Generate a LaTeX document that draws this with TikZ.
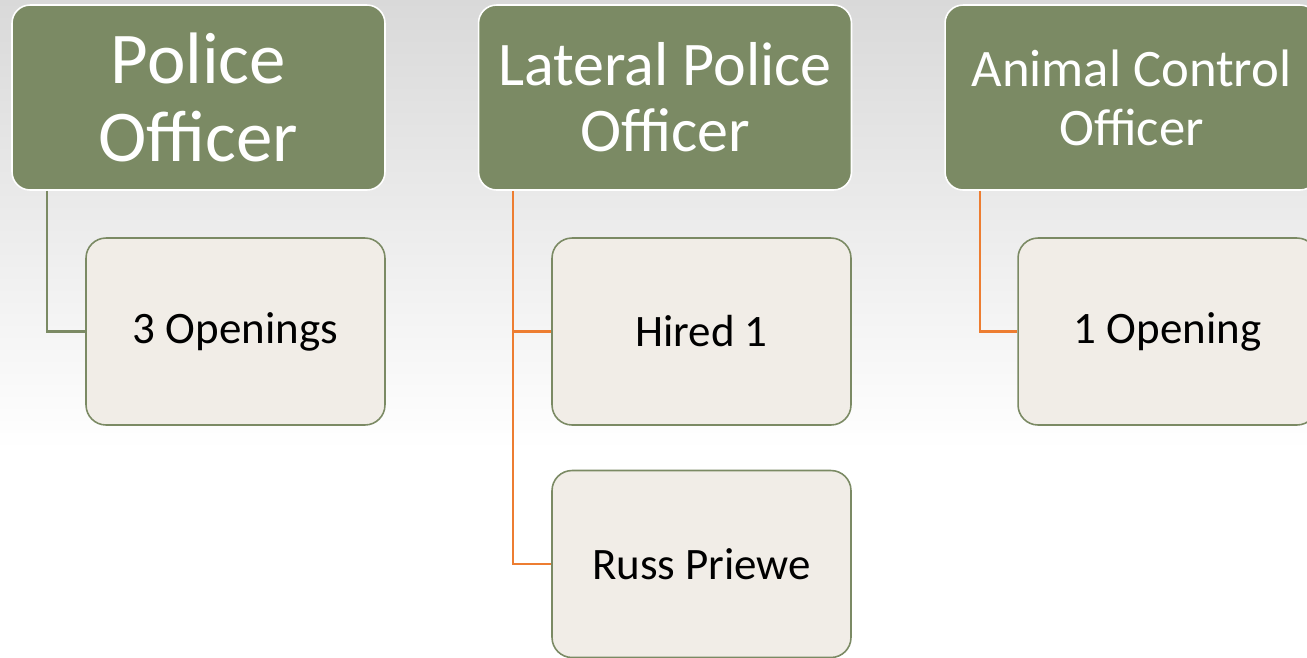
\documentclass[tikz,border=0pt]{standalone}
\usepackage{fontspec}
\setmainfont{Carlito}
\usepackage{tikz}
\usetikzlibrary{positioning,calc}

\definecolor{olivehead}{HTML}{7B8A64}
\definecolor{itemfill}{HTML}{F1EDE7}
\definecolor{linkorange}{HTML}{ED7D31}
\definecolor{bgtop}{HTML}{D9D9D9}

\begin{document}
\begin{tikzpicture}[x=0.02cm,y=-0.02cm,
  head/.style={draw=white,line width=0.9pt,fill=olivehead,rounded corners=0.36cm,
    minimum width=7.46cm,minimum height=3.7cm,text=white,align=center,inner sep=0pt},
  item/.style={draw=olivehead,line width=0.9pt,fill=itemfill,rounded corners=0.4cm,
    minimum width=5.98cm,minimum height=3.74cm,align=center,inner sep=0pt,
    font=\fontsize{25.6}{30}\selectfont},
  link/.style={line width=1.3pt,linkorange}]
\clip (0,0) rectangle (1307,657);
\useasboundingbox (0,0) rectangle (1307,657);
\shade[top color=bgtop,bottom color=white] (0,0) rectangle (1307,450);
\fill[white] (0,450) rectangle (1307,657);

\node[head,font=\fontsize{41.5}{44.4}\selectfont] (police) at (198.5,97.5) {Police\\Officer};
\node[head,font=\fontsize{35.3}{37.5}\selectfont] (lateral) at (665,97.5) {Lateral Police\\Officer};
\node[head,font=\fontsize{30}{33.5}\selectfont] (animal) at (1131.5,97.5) {Animal Control\\Officer};

\node[item] (openings) at (235.5,331.5) {3 Openings};
\node[item] (hired)    at (701.5,331.5) {Hired 1};
\node[item] (russ)     at (701.5,564)   {Russ Priewe};
\node[item] (opening)  at (1167.5,331.5) {1 Opening};

\coordinate (trunk) at ([xshift=0.7cm]lateral.south west);
\draw[link,olivehead] ([xshift=0.72cm]police.south west) |- (openings.west);
\draw[link] (trunk) |- (russ.west);
\draw[link] (trunk |- hired.west) -- (hired.west);
\draw[link] ([xshift=0.72cm]animal.south west) |- (opening.west);
\end{tikzpicture}
\end{document}
